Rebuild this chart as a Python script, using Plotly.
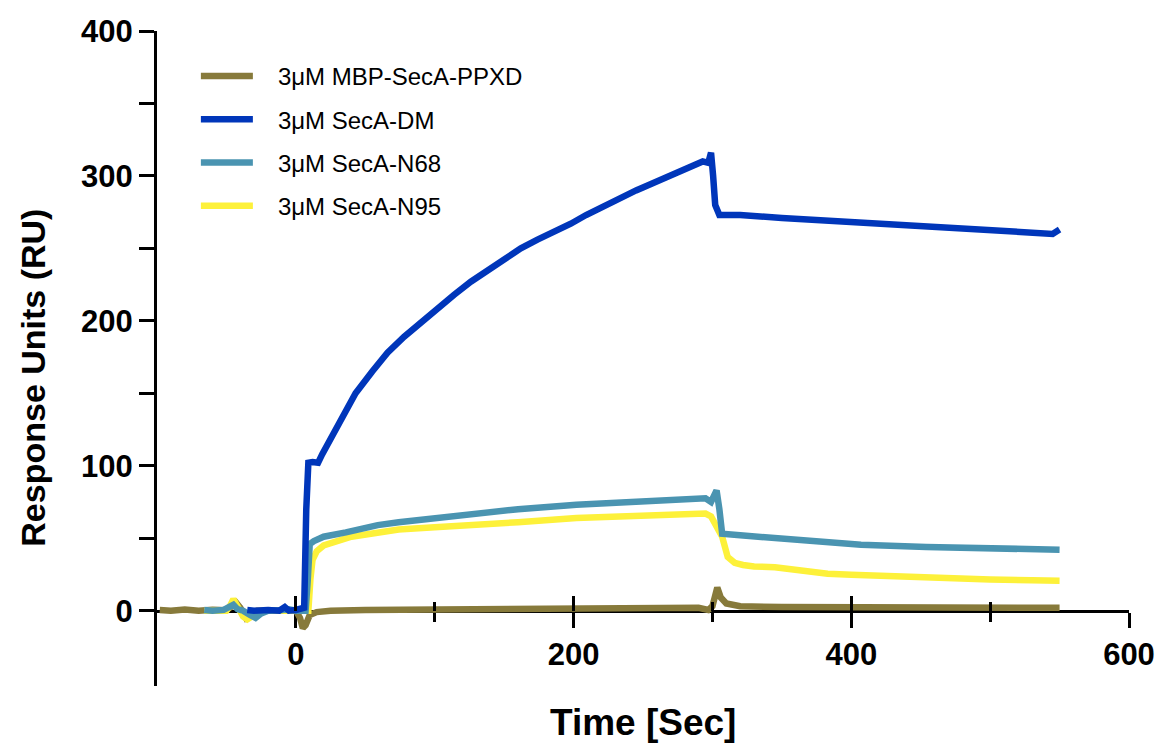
import plotly.graph_objects as go

# Sensorgram traces: time (s) and response (RU)
t_ppxd = [-98, -90, -80, -70, -60, -50, -46, -43, -40, -36, -32, -28, -20, -10, 0, 3, 5, 7, 10,
          15, 25, 50, 100, 150, 200, 250, 290, 297, 300, 303.5, 306, 310, 320, 350, 400, 450,
          500, 530, 550]
ru_ppxd = [0.5, 0, 0.8, 0, 0.6, 0.3, 3, 5.5, 2, -5, -2, 0, 0, 0, 0, -5, -12, -10, -3,
           -1, 0, 0.5, 1, 1.3, 1.5, 1.8, 2, 0.5, 3, 16, 9, 5, 3, 2.5, 2.5, 2.5,
           3, 2.5, 2]

t_dm = [-35, -30, -20, -12, -8, -5, 0, 4, 6, 7.5, 9, 12, 16, 19, 26, 35, 43, 55, 66, 78, 90,
        102, 114, 126, 138, 150, 162, 174, 186, 198, 209, 221, 233, 245, 257, 269, 281, 293,
        297, 299, 300.5, 302, 305, 320, 350, 400, 450, 500, 530, 545, 550]
ru_dm = [0.5, 0, 0.5, 0, 2.5, 0, 0.5, 1, 2, 70, 102, 102.5, 102, 108, 120, 137, 150, 165, 178, 189, 199,
         209, 218, 227, 235, 243, 250, 256, 261, 267, 273, 279, 285, 290, 295, 300, 305, 310,
         309, 316, 300, 280, 273, 273, 271, 268, 265, 263, 261, 260, 263]

t_n68 = [-66, -60, -52, -48, -45, -42, -38, -33, -29, -25, -20, -10, -5, 0, 4, 7, 8.5, 10, 13,
         20, 36, 59, 74, 100, 131, 160, 202, 240, 270, 295, 299, 301, 303, 305, 307, 320, 345,
         360, 388, 407, 454, 502, 530, 550]
ru_n68 = [0.5, 0, 0.5, 2, 4, 1, 0, -3, -5, -2, 0, 0.5, 1, 0, 0, 0, 20, 46, 48,
          51, 54, 59, 61, 64, 67.5, 70, 73, 75, 76.5, 77.5, 75, 78, 83, 70, 53, 52, 50,
          49, 47, 45.5, 44, 43, 42.5, 42]

t_n95 = [-66, -55, -50, -47, -45, -42, -38, -35, -30, -25, -20, -10, 0, 5, 9, 10.5, 12, 15, 20,
         40, 59, 74, 100, 131, 160, 202, 250, 280, 295, 299, 302, 305, 307, 311, 316, 322, 330,
         345, 360, 383, 400, 431, 460, 478, 500, 530, 550]
ru_n95 = [0, 0.5, 0, 4, 8, 3, -4, -6, -3, 0, 0, 0, 0, 0, 0, 22, 35, 41, 45,
          51, 54, 56, 57.5, 59, 61, 64, 65.5, 66.5, 67, 65, 60, 55, 51, 37, 33, 31.5, 30.5,
          30, 28, 25.5, 24.7, 23.4, 22.5, 22, 21.5, 21, 20.7]

series = [
    # name, x, y, colour, legend rank (draw order is bottom to top)
    ("3\u03bcM MBP-SecA-PPXD", t_ppxd, ru_ppxd, "#877A3B", 1),
    ("3\u03bcM SecA-N95", t_n95, ru_n95, "#FDF13A", 4),
    ("3\u03bcM SecA-N68", t_n68, ru_n68, "#4A94B1", 3),
    ("3\u03bcM SecA-DM", t_dm, ru_dm, "#0036BA", 2),
]

x_range = [-100, 600]
y_range = [-52, 400]
x_major = [0, 200, 400, 600]
x_minor = [100, 300, 500]
y_major = [0, 100, 200, 300, 400]
y_minor = [50, 150, 250, 350]

FONT = "Liberation Sans, Arial, sans-serif"
PAD = "\u00a0\u00a0\u00a0"  # gap between legend swatch and label

fig = go.Figure()
for name, xs, ys, color, rank in series:
    fig.add_trace(go.Scatter(
        x=xs, y=ys, mode="lines", name=PAD + name,
        line=dict(color=color, width=6.5),
        legendgroup=name, legendrank=rank,
    ))

# carrier trace for the overlaid axis that draws the inward half of the x ticks
fig.add_trace(go.Scatter(x=[None], y=[None], xaxis="x2", yaxis="y",
                         showlegend=False, hoverinfo="skip"))

# x axis sits at y = 0
x_pos = (0 - y_range[0]) / (y_range[1] - y_range[0])

tick_font = dict(family=FONT, size=31, color="black", weight="bold")

fig.update_layout(
    width=1167, height=747,
    margin=dict(l=157, r=32, t=31, b=61),
    paper_bgcolor="white", plot_bgcolor="white",
    showlegend=True,
    legend=dict(
        x=0.04, y=0.965, xanchor="left", yanchor="top",
        font=dict(family=FONT, size=24, color="black"),
        bgcolor="rgba(0,0,0,0)", tracegroupgap=9, itemwidth=52,
    ),
    xaxis=dict(
        range=x_range, anchor="free", position=x_pos,
        showline=True, linecolor="black", linewidth=3,
        showgrid=False, zeroline=False,
        tickmode="array", tickvals=x_major, ticktext=[str(v) for v in x_major],
        ticks="outside", ticklen=15, tickwidth=3, tickcolor="black",
        tickfont=tick_font,
        minor=dict(tickmode="array", tickvals=x_minor, ticks="outside",
                   ticklen=9, tickwidth=3, tickcolor="black", showgrid=False),
        layer="below traces",
    ),
    xaxis2=dict(
        range=x_range, overlaying="x", anchor="free", position=x_pos,
        showline=False, showgrid=False, zeroline=False, showticklabels=False,
        tickmode="array", tickvals=x_major,
        ticks="inside", ticklen=15, tickwidth=3, tickcolor="black",
        minor=dict(tickmode="array", tickvals=x_minor, ticks="inside",
                   ticklen=9, tickwidth=3, tickcolor="black", showgrid=False),
    ),
    yaxis=dict(
        range=y_range, showline=True, linecolor="black", linewidth=3,
        showgrid=False, zeroline=False,
        tickmode="array", tickvals=y_major, ticktext=[str(v) for v in y_major],
        ticks="outside", ticklen=15, tickwidth=3, tickcolor="black",
        tickfont=tick_font,
        minor=dict(tickmode="array", tickvals=y_minor, ticks="outside",
                   ticklen=15, tickwidth=3, tickcolor="black", showgrid=False),
    ),
    annotations=[
        dict(text="<b>Time [Sec]</b>", xref="paper", yref="paper",
             x=0.5, y=-0.055, xanchor="center", yanchor="middle", showarrow=False,
             font=dict(family=FONT, size=37, color="black")),
        dict(text="<b>Response Units (RU)</b>", xref="paper", yref="paper",
             x=-0.127, y=0.47, xanchor="center", yanchor="middle", showarrow=False,
             textangle=-90,
             font=dict(family=FONT, size=34, color="black")),
    ],
)

fig.write_html("out.html")
